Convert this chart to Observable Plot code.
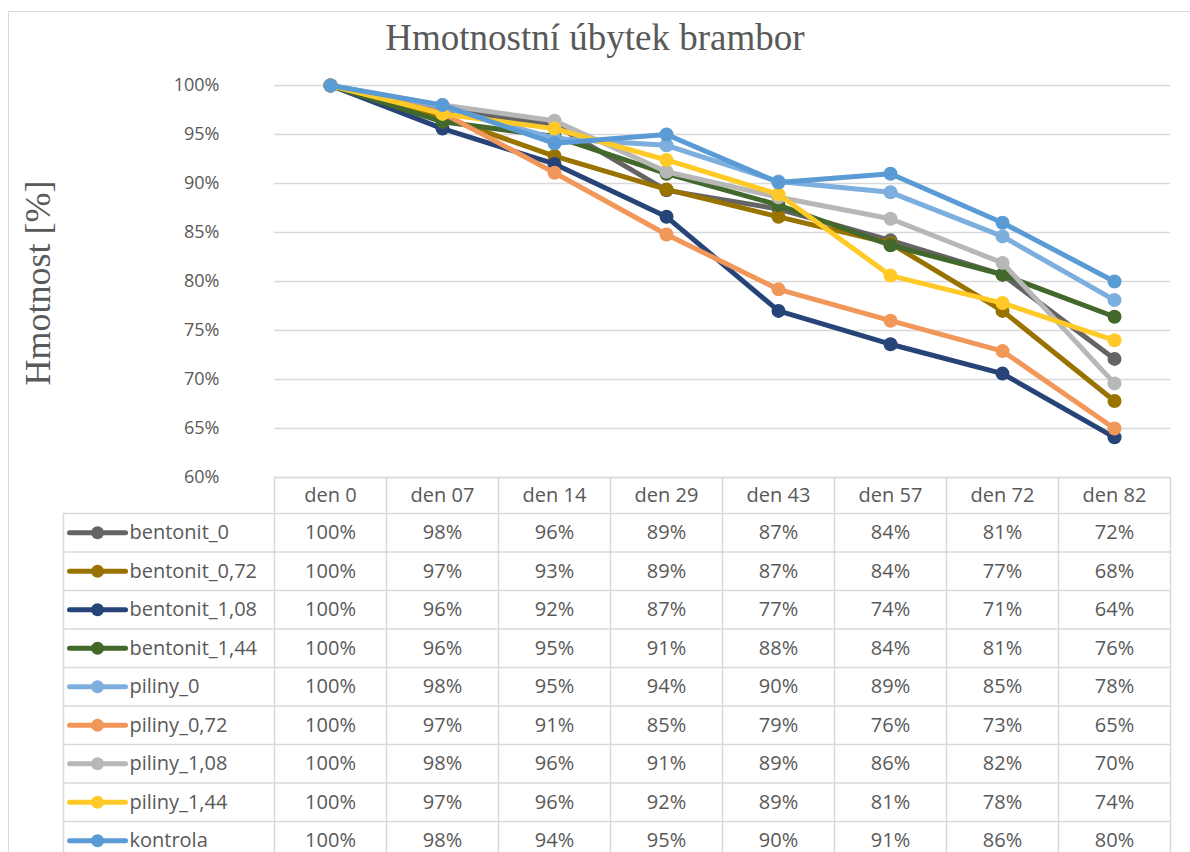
<!DOCTYPE html>
<html>
<head>
<meta charset="utf-8">
<script src="https://cdn.jsdelivr.net/npm/d3@7"></script>
<script src="https://cdn.jsdelivr.net/npm/@observablehq/plot@0.6"></script>
<style>
  html, body { margin: 0; padding: 0; background: #ffffff; }
  #wrap { position: relative; width: 1190px; height: 852px; overflow: hidden; background: #ffffff; }
  #frame { position: absolute; left: 8px; top: 11px; width: 1220px; height: 900px; border: 1px solid #d9d9d9; box-sizing: border-box; }
  #title { position: absolute; left: 0; top: 19px; width: 1190px; text-align: center; font-family: "Liberation Serif", "Times New Roman", serif; font-size: 37px; line-height: 37px; color: #595959; white-space: nowrap; }
  #ylabel { position: absolute; left: 38px; top: 283px; transform: translate(-50%, -50%) rotate(-90deg); font-family: "Liberation Serif", "Times New Roman", serif; font-size: 36px; line-height: 36px; color: #595959; white-space: nowrap; }
  .layer { position: absolute; left: 0; top: 0; }
</style>
</head>
<body>
<div id="wrap">
  <div id="frame"></div>
  <div id="title">Hmotnostní úbytek brambor</div>
  <div id="ylabel">Hmotnost [%]</div>
  <div id="tableLayer" class="layer"></div>
  <div id="chartLayer" class="layer"></div>
</div>
<script>
// ---- data ----
const days = ["den 0", "den 07", "den 14", "den 29", "den 43", "den 57", "den 72", "den 82"];
const yTicks = [60, 65, 70, 75, 80, 85, 90, 95, 100];

const bentonit_0    = [100, 97.6, 96.0, 89.3, 87.4, 84.2, 80.7, 72.1];
const bentonit_072  = [100, 96.8, 92.8, 89.4, 86.6, 83.9, 77.0, 67.8];
const bentonit_108  = [100, 95.6, 92.0, 86.6, 77.0, 73.6, 70.6, 64.1];
const bentonit_144  = [100, 96.3, 94.8, 91.0, 87.8, 83.7, 80.7, 76.4];
const piliny_0      = [100, 97.8, 94.6, 93.9, 90.2, 89.1, 84.6, 78.1];
const piliny_072    = [100, 97.2, 91.1, 84.8, 79.2, 76.0, 72.9, 65.0];
const piliny_108    = [100, 98.0, 96.4, 91.2, 88.6, 86.4, 81.9, 69.6];
const piliny_144    = [100, 97.1, 95.6, 92.4, 88.9, 80.6, 77.8, 74.0];
const kontrola      = [100, 98.0, 94.1, 95.0, 90.1, 91.0, 86.0, 80.0];

const seriesNames  = ["bentonit_0", "bentonit_0,72", "bentonit_1,08", "bentonit_1,44", "piliny_0", "piliny_0,72", "piliny_1,08", "piliny_1,44", "kontrola"];
const seriesValues = [bentonit_0, bentonit_072, bentonit_108, bentonit_144, piliny_0, piliny_072, piliny_108, piliny_144, kontrola];
const seriesColors = ["#646464", "#997300", "#264478", "#43682B", "#7CAFDD", "#F1975A", "#B7B7B7", "#FFCA28", "#5B9BD5"];

// long-format table for Plot
const rows = seriesNames.flatMap((name, s) =>
  days.map((day, i) => ({series: name, s, day, i, value: seriesValues[s][i]})));

const textColor = "#595959";
const gridColor = "#d9d9d9";

// ---- line chart ----
const lineMarks = [
  Plot.ruleY(yTicks, {stroke: gridColor, strokeWidth: 1.5})
];
seriesNames.forEach((name, s) => {
  const d = rows.filter(r => r.series === name);
  lineMarks.push(Plot.line(d, {x: "day", y: "value", stroke: seriesColors[s], strokeWidth: 5, strokeLinejoin: "round", strokeLinecap: "round"}));
  lineMarks.push(Plot.dot(d, {x: "day", y: "value", fill: seriesColors[s], r: 7}));
});

const chart = Plot.plot({
  width: 1190,
  height: 490,
  marginLeft: 274,
  marginRight: 20,
  marginTop: 85,
  marginBottom: 13,
  style: {background: "transparent", overflow: "visible", fontFamily: "'Open Sans', sans-serif", fontSize: "18px", color: textColor},
  x: {type: "point", domain: days, padding: 0.5, axis: null},
  y: {domain: [60, 100], ticks: yTicks, tickFormat: d => d + "%", tickSize: 0, tickPadding: 55, label: null},
  marks: lineMarks
});
document.getElementById("chartLayer").appendChild(chart);

// ---- data table with legend ----
const legendW = 211 / 112;   // legend column width in column units
const headerH = 36 / 38.5;   // header row height in row units
const nRows = seriesNames.length;
const nCols = days.length;

const hLines = [{y: -headerH, x1: 0, x2: nCols}]
  .concat(d3.range(0, nRows + 1).map(k => ({y: k, x1: -legendW, x2: nCols})));
const vLines = [{x: -legendW, y1: 0, y2: nRows}]
  .concat(d3.range(0, nCols + 1).map(c => ({x: c, y1: -headerH, y2: nRows})));

const legendRows = seriesNames.map((name, s) => ({name, s, color: seriesColors[s]}));

const table = Plot.plot({
  width: 1190,
  height: 860,
  style: {background: "transparent", fontFamily: "'Open Sans', sans-serif", fontSize: "20px", color: textColor},
  x: {type: "linear", domain: [-legendW, nCols], range: [63, 1170], axis: null},
  y: {type: "linear", domain: [-headerH, nRows], range: [477, 859.5], axis: null},
  marks: [
    Plot.ruleY(hLines, {y: "y", x1: "x1", x2: "x2", stroke: gridColor, strokeWidth: 1.5}),
    Plot.ruleX(vLines, {x: "x", y1: "y1", y2: "y2", stroke: gridColor, strokeWidth: 1.5}),
    Plot.text(days, {x: (d, i) => i + 0.5, y: -headerH / 2, text: d => d, fill: textColor, fontSize: 20}),
    Plot.text(rows, {x: d => d.i + 0.5, y: d => d.s + 0.5, text: d => Math.round(d.value) + "%", fill: textColor, fontSize: 20}),
    Plot.link(legendRows, {x1: -1.83, x2: -1.33, y1: d => d.s + 0.5, y2: d => d.s + 0.5, stroke: d => d.color, strokeWidth: 5, strokeLinecap: "round"}),
    Plot.dot(legendRows, {x: -1.58, y: d => d.s + 0.5, fill: d => d.color, r: 6.5}),
    Plot.text(legendRows, {x: -1.295, y: d => d.s + 0.5, text: "name", textAnchor: "start", fill: textColor, fontSize: 20})
  ]
});
document.getElementById("tableLayer").appendChild(table);
</script>
</body>
</html>
